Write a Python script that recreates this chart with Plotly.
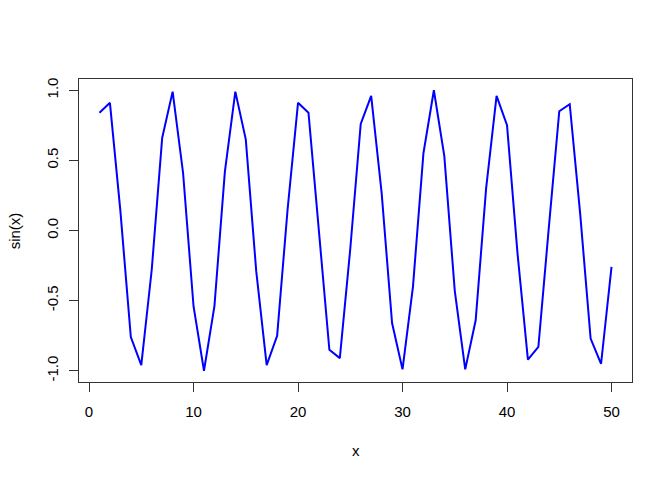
import plotly.graph_objects as go

x_vals = list(range(1, 51))
sin_vals = [0.84, 0.91, 0.14, -0.76, -0.96, -0.28, 0.66, 0.99, 0.41, -0.54,
            -1.00, -0.54, 0.42, 0.99, 0.65, -0.29, -0.96, -0.75, 0.15, 0.91,
            0.84, -0.01, -0.85, -0.91, -0.13, 0.76, 0.96, 0.27, -0.66, -0.99,
            -0.40, 0.55, 1.00, 0.53, -0.43, -0.99, -0.64, 0.30, 0.96, 0.75,
            -0.16, -0.92, -0.83, 0.02, 0.85, 0.90, 0.12, -0.77, -0.95, -0.26]
x_ticks = [0, 10, 20, 30, 40, 50]
y_ticks = [-1.0, -0.5, 0.0, 0.5, 1.0]
y_tick_text = ["-1.0", "-0.5", "0.0", "0.5", "1.0"]

fig = go.Figure()
fig.add_trace(go.Scatter(x=x_vals, y=sin_vals, mode="lines",
                         line=dict(color="#0000ff", width=2)))

font = dict(family="Liberation Sans, Arial, sans-serif", size=15, color="black")
fig.update_layout(
    width=672, height=480,
    margin=dict(l=79, r=40, t=79, b=98, autoexpand=False),
    paper_bgcolor="white", plot_bgcolor="white",
    showlegend=False, font=font,
    xaxis=dict(range=[-0.96, 51.96], tickvals=x_ticks, ticks="outside", ticklen=9,
               tickcolor="#333", showgrid=False, zeroline=False, showline=True,
               linecolor="#333", linewidth=1, mirror=True, tickfont=font,
               ticklabelstandoff=7, automargin=False),
    yaxis=dict(range=[-1.08, 1.08], tickvals=y_ticks, ticktext=y_tick_text,
               ticks="outside", ticklen=9, tickcolor="#333", tickangle=-90,
               showgrid=False, zeroline=False, showline=True, linecolor="#333",
               linewidth=1, mirror=True, tickfont=font, ticklabelstandoff=5,
               automargin=False),
    annotations=[
        dict(text="x", xref="paper", yref="paper", x=0.5, y=-0.225, showarrow=False,
             font=font, xanchor="center", yanchor="middle"),
        dict(text="sin(x)", xref="paper", yref="paper", x=-0.116, y=0.5, showarrow=False,
             font=font, textangle=-90, xanchor="center", yanchor="middle"),
    ],
)
fig.write_html("out.html", config={"displayModeBar": False})
with open("out.html", "r", encoding="utf-8") as f:
    html = f.read()
html = html.replace("<body>", '<body style="margin:0;padding:0">', 1)
with open("out.html", "w", encoding="utf-8") as f:
    f.write(html)
